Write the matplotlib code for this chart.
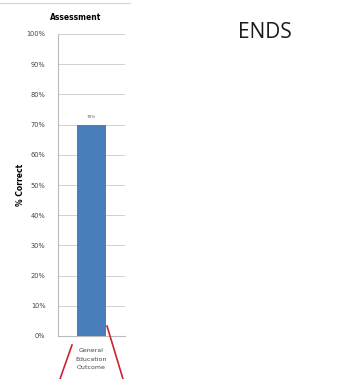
import matplotlib
matplotlib.use("Agg")
import matplotlib.pyplot as plt
from matplotlib.lines import Line2D

categories = ["General\nEducation\nOutcome"]
values = [70]
value_labels = ["70%"]
yticks = list(range(0, 101, 10))

fig = plt.figure(figsize=(3.38, 3.79), dpi=100)
ax = fig.add_axes([58/338, 1 - 336/379, 67/338, 302/379])

ax.bar([0], values, width=0.42, color="#4a7ebb", zorder=3)
for x, v, lab in zip([0], values, value_labels):
    ax.text(x, v + 2, lab, ha="center", va="bottom", fontsize=3, color="#555555")

ax.set_xlim(-0.5, 0.5)
ax.set_ylim(0, 100)
ax.set_yticks(yticks)
ax.set_yticklabels([f"{t}%" for t in yticks], fontsize=4.8, color="#444444")
ax.set_xticks([0])
ax.set_xticklabels(categories, fontsize=4.5, color="#444444", linespacing=1.8)
ax.tick_params(axis="y", length=0, pad=9)
ax.tick_params(axis="x", length=0, pad=9)
ax.grid(axis="y", color="#c8c8c8", linewidth=0.6, zorder=0)
for s in ["top", "right"]:
    ax.spines[s].set_visible(False)
ax.spines["left"].set_color("#bbbbbb")
ax.spines["bottom"].set_color("#bbbbbb")
ax.set_ylabel("% Correct", fontsize=5.5, fontweight="bold", labelpad=1)

fig.text(50/338, 1 - 17/379, "Assessment", fontsize=5.5, fontweight="bold",
         ha="left", va="center")
fig.text(265/338, 1 - 33/379, "ENDS", fontsize=15, ha="center", va="center",
         family="Open Sans", color="#1a1a1a")

# top rule and red callout lines
fig.add_artist(Line2D([0, 130/338], [1 - 3/379, 1 - 3/379], color="#d5d5d5", lw=0.8))
fig.add_artist(Line2D([72/338, 60/338], [1 - 345/379, 0], color="#cc2233", lw=1.2))
fig.add_artist(Line2D([107/338, 123/338], [1 - 326/379, 0], color="#cc2233", lw=1.2))

fig.savefig("out.png", dpi=100)
